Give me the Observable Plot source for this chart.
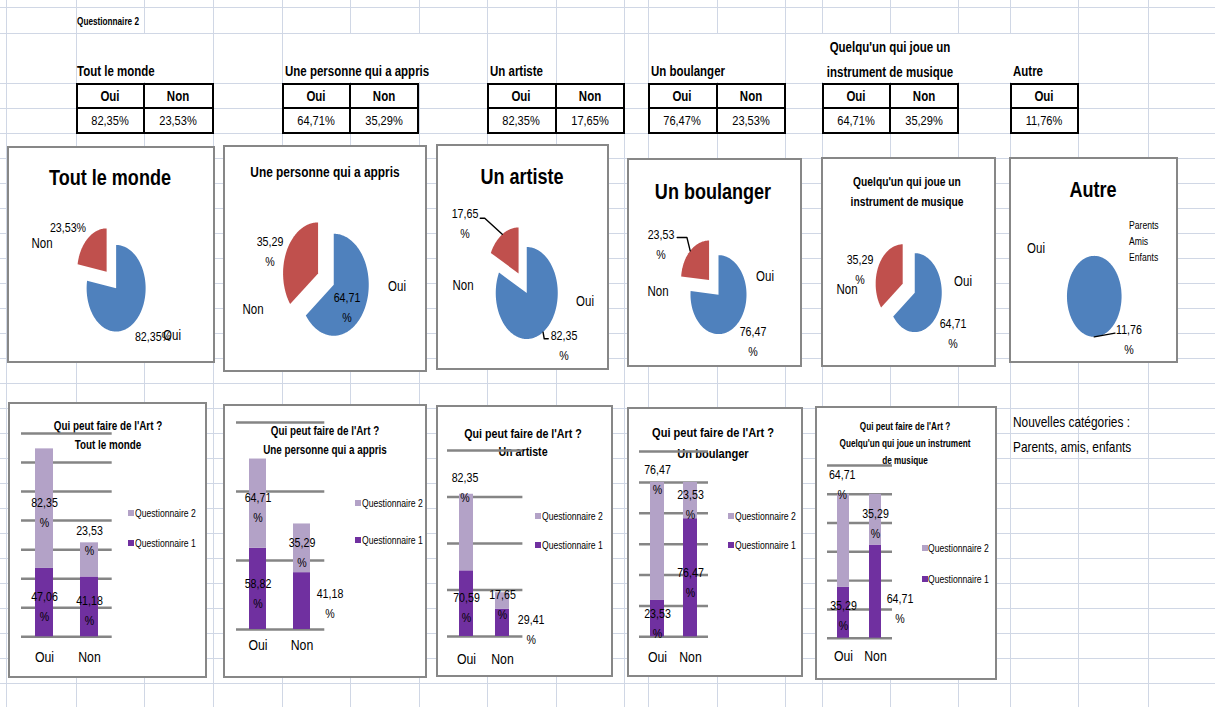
<!DOCTYPE html>
<html>
<head>
<meta charset="utf-8">
<script src="https://cdn.jsdelivr.net/npm/d3@7"></script>
<script src="https://cdn.jsdelivr.net/npm/@observablehq/plot@0.6"></script>
<style>
  body { margin: 0; background: #fff; }
  #page { position: relative; width: 1215px; height: 707px; overflow: hidden; background: #fff;
          font-family: "Liberation Sans Narrow", "Arial Narrow", "Liberation Sans", sans-serif; color: #000; }
  .gv { position: absolute; top: 0; width: 1px; height: 707px; background: #d0d7e5; }
  .gh { position: absolute; left: 0; height: 1px; width: 1215px; background: #d0d7e5; }
  .cover { position: absolute; background: #fff; }
  .box { position: absolute; background: #fff; border: 2px solid #878787; box-sizing: border-box; }
  .tbl { position: absolute; border: 2px solid #000; box-sizing: border-box; background: #fff; }
  .txt { position: absolute; white-space: pre; }
  .sw { position: absolute; width: 6px; height: 6px; }
</style>
</head>
<body>
<div id="page"></div>
<script>
// ---------------- DATA ----------------
const sheetTitle = "Questionnaire 2";
const chartQuestion = "Qui peut faire de l'Art ?";
const categories = ["Tout le monde", "Une personne qui a appris", "Un artiste", "Un boulanger",
                    "Quelqu'un qui joue un instrument de musique", "Autre"];
const answers = ["Oui", "Non"];
const seriesNames = ["Questionnaire 2", "Questionnaire 1"];
const q2Oui = [82.35, 64.71, 82.35, 76.47, 64.71, 11.76];
const q2Non = [23.53, 35.29, 17.65, 23.53, 35.29, null];
const q1Oui = [47.06, 58.82, 70.59, 23.53, 35.29];
const q1Non = [41.18, 41.18, 29.41, 76.47, 64.71];
const autreDetails = ["Parents", "Amis", "Enfants"];
const noteLines = ["Nouvelles catégories :", "Parents, amis, enfants"];
const barYMax = [140, 150, 200, 120, 120];
const barYStep = [20, 50, 50, 20, 20];

// ---------------- STYLE / LAYOUT ----------------
const FONT = '"Liberation Sans Narrow", "Arial Narrow", "Liberation Sans", sans-serif';
const SQUEEZE = 0.82; // horizontal condensing to mimic a narrow font
const BLUE = "#4f81bd", RED = "#c0504d", Q1C = "#7030a0", Q2C = "#b3a2c7", RULE = "#858585";
const gridCols = [6, 76, 144, 212.7, 281.7, 350, 418.5, 486.7, 555.5, 624, 647.7, 716.7, 785, 821.7, 890, 958.3, 1010, 1078.3, 1147.7];
const gridRows = [7, 32.5].concat(d3.range(82.7, 707, 25));
const row2Hidden = [144, 350, 418.5, 716.7, 821.7, 890, 958.3, 1010];

const tableLayout = [
  {title: {x: 77.3, y: 70.7}, cols: [76, 144, 212.7]},
  {title: {x: 284.7, y: 70.7}, cols: [281.7, 350, 418.5]},
  {title: {x: 489.7, y: 70.7}, cols: [486.7, 555.5, 624]},
  {title: {x: 650.7, y: 70.7}, cols: [647.7, 716.7, 785]},
  {title: {x: 890, y: [46.7, 71.7], center: true, split: 4}, cols: [821.7, 890, 958.3]},
  {title: {x: 1012.7, y: 70.7}, cols: [1010, 1078.3]}
];
const tableRows = [82.7, 108, 133];

const pieLayout = [
  {box: [7, 146, 215, 363], c: [115.5, 287.3], r: [29.5, 43.3], title: {x: 110, y: [178.3], size: 22},
   wrap: false, nonVal: [68.3, 228.3], nonCat: [41.7, 243.3], ouiVal: [153.3, 336.7], ouiCat: [171.7, 335], leaders: {}},
  {box: [223.3, 145, 427, 371.7], c: [333.3, 284], r: [35, 51], title: {x: 325, y: [171.7], size: 14.5},
   wrap: true, nonVal: [270.3, 251.7], nonCat: [253.3, 309.3], ouiVal: [346.7, 308.3], ouiCat: [396.7, 285.7], leaders: {}},
  {box: [436, 144, 609, 370], c: [526, 292.5], r: [31, 46], title: {x: 521.7, y: [177.3], size: 22},
   wrap: true, nonVal: [465, 224.2], nonCat: [463.3, 285], ouiVal: [564, 346], ouiCat: [585, 301],
   leaders: {Non: [[484, 217.7], [479.5, 217.7]], Oui: [[543.5, 338.3], [547.5, 338.3]]}},
  {box: [626.7, 158.3, 801.7, 366.7], c: [718.3, 294.5], r: [28, 39.5], title: {x: 713.3, y: [191.7], size: 22},
   wrap: true, nonVal: [661.2, 245.3], nonCat: [658.3, 290.7], ouiVal: [753.3, 341.7], ouiCat: [765, 276],
   leaders: {Non: [[686.7, 237.3], [677, 237.3]]}},
  {box: [820.7, 156.7, 996, 366.7], c: [914, 292], r: [27, 39.5], title: {x: 907.3, y: [181.7, 201.7], size: 12.5, split: 4},
   wrap: true, nonVal: [859.7, 270.3], nonCat: [847.3, 289.3], ouiVal: [953, 333.7], ouiCat: [962.7, 280.7], leaders: {}},
  {box: [1009, 156.7, 1177.7, 363], c: [1093.3, 295.5], r: [27.3, 40.5], title: {x: 1093.3, y: [190], size: 22},
   wrap: true, ouiVal: [1129.3, 340], ouiCat: [1035.7, 248.3], details: {x: 1129.3, y: [225, 240.7, 257.3]},
   leaders: {Oui: [[1114, 332.3]]}}
];

const barLayout = [
  {box: [8.3, 401.7, 207, 678], grid: [21, 111.7, 432.7, 636], centers: [43.8, 88.8], bw: 17.7,
   title: {x: 107.5, y: [426, 445], size: 12}, legend: {x: 128.3, y: [512.7, 542.7]}, axisDy: 25.5,
   shifts: [[0, 2], [0, -21], [0, 2], [0, 2]]},
  {box: [223, 404, 426.7, 678], grid: [235.7, 324, 422.3, 629.3], centers: [257.2, 302], bw: 17.5,
   title: {x: 325, y: [430.7, 450], size: 12}, legend: {x: 355, y: [503.3, 540]}, axisDy: 20.7,
   shifts: [[0, 1.5], [0, 2], [0, 3], [28, 1]]},
  {box: [436, 405, 612.7, 677], grid: [447.3, 522.7, 450, 636], centers: [466.7, 503.3], bw: 14.7,
   title: {x: 523.3, y: [432.7, 451], size: 13}, legend: {x: 535, y: [516, 545]}, axisDy: 27.8,
   shifts: [[-1.5, -47.4], [0, 1.4], [0, 1.5], [28.7, 5]]},
  {box: [627, 407, 802.7, 677], grid: [639.3, 708.3, 450.7, 636], centers: [657.5, 691.2], bw: 14.7,
   title: {x: 713.3, y: [433.3, 454.3], size: 13.5}, legend: {x: 728.3, y: [516, 545]}, axisDy: 25,
   shifts: [[0, -63.8], [0, 2.3], [0, 3], [0, 3]]},
  {box: [815, 406, 996.7, 680], grid: [826.7, 891.7, 465, 637.7], centers: [843, 875.5], bw: 12.5,
   title: {x: 905, y: [426.7, 444, 460.7], size: 10, split: 5}, legend: {x: 921.7, y: [548.3, 579.3]}, axisDy: 23,
   shifts: [[-1.3, -58.5], [0, 1.5], [0, 1], [24.5, 15]]}
];
const note = {x: 1012.7, y: [422.3, 447.3], size: 14.5};

// ---------------- HELPERS ----------------
const page = document.getElementById("page");
const fmt = v => v.toFixed(2).replace(".", ",");
function add(cls, css) {
  const d = document.createElement("div");
  d.className = cls;
  Object.assign(d.style, css);
  page.appendChild(d);
  return d;
}
function text(str, x, y, {size = 14, weight = "normal", anchor = "middle", lh = null} = {}) {
  const mid = anchor === "middle";
  const d = add("txt", {left: x + "px", top: y + "px", fontSize: size + "px", fontWeight: weight,
    lineHeight: lh ? lh + "px" : "1", textAlign: mid ? "center" : "left",
    transformOrigin: mid ? "50% 50%" : "0 50%",
    transform: (mid ? "translate(-50%,-50%)" : "translate(0,-50%)") + ` scaleX(${SQUEEZE})`});
  d.textContent = str;
  return d;
}
function splitWords(s, n) {
  const w = s.split(" ");
  return [w.slice(0, n).join(" "), w.slice(n).join(" ")];
}
function squeezeSvgText(svg) {
  svg.querySelectorAll("text").forEach(t => {
    const tr = t.getAttribute("transform");
    if (tr) t.setAttribute("transform", tr + ` scale(${SQUEEZE},1)`);
    else {
      const x = +t.getAttribute("x") || 0, y = +t.getAttribute("y") || 0;
      t.removeAttribute("x"); t.removeAttribute("y");
      t.setAttribute("transform", `translate(${x},${y}) scale(${SQUEEZE},1)`);
    }
  });
}
function place(svg, left, top) {
  Object.assign(svg.style, {position: "absolute", left: left + "px", top: top + "px",
    overflow: "visible", background: "transparent", fontFamily: FONT, maxWidth: "none"});
  squeezeSvgText(svg);
  page.appendChild(svg);
}

// ---------------- SHEET GRID ----------------
gridCols.forEach(x => add("gv", {left: Math.round(x) + "px"}));
gridRows.forEach(y => add("gh", {top: Math.round(y) + "px"}));
row2Hidden.forEach(x => add("cover", {left: (Math.round(x) - 1) + "px", top: "34px", width: "3px", height: "48px"}));

// ---------------- TOP TABLES ----------------
text(sheetTitle, 77.3, 21.5, {size: 10, weight: "bold", anchor: "start"});
tableLayout.forEach((T, i) => {
  const t = T.title;
  if (t.center) {
    splitWords(categories[i], t.split).forEach((ln, j) => text(ln, t.x, t.y[j], {size: 14, weight: "bold"}));
  } else {
    text(categories[i], t.x, t.y, {size: 14, weight: "bold", anchor: "start"});
  }
  const cols = T.cols;
  const [y0, ym, y1] = tableRows;
  add("tbl", {left: cols[0] + "px", top: y0 + "px", width: (cols[cols.length - 1] - cols[0] + 1) + "px", height: (y1 - y0 + 1) + "px"});
  add("cover", {left: cols[0] + "px", top: (ym - 1) + "px", width: (cols[cols.length - 1] - cols[0]) + "px", height: "2px", background: "#000"});
  if (cols.length === 3) add("cover", {left: (cols[1] - 1) + "px", top: y0 + "px", width: "2px", height: (y1 - y0) + "px", background: "#000"});
  const vals = [q2Oui[i], q2Non[i]];
  for (let c = 0; c < cols.length - 1; c++) {
    const cx = (cols[c] + cols[c + 1]) / 2;
    text(answers[c], cx, (y0 + ym) / 2 + 0.5, {size: 14, weight: "bold"});
    text(fmt(vals[c]) + "%", cx, (ym + y1) / 2 + 0.5, {size: 13.5});
  }
});

// ---------------- PIE CHARTS ----------------
pieLayout.forEach((P, i) => {
  const [bx0, by0, bx1, by1] = P.box;
  add("box", {left: bx0 + "px", top: by0 + "px", width: (bx1 - bx0) + "px", height: (by1 - by0) + "px"});
  const [cx, cy] = P.c, [rx, ry] = P.r;
  const vals = q2Non[i] == null ? [{answer: "Oui", value: q2Oui[i]}]
                                : [{answer: "Oui", value: q2Oui[i]}, {answer: "Non", value: q2Non[i]}];
  const arcs = d3.pie().sort(null).value(d => d.value)(vals);
  const toUnit = ([px, py]) => ({x: (px - cx) / rx, y: (cy - py) / ry});
  const marks = [];
  arcs.forEach(a => {
    const ex = a.data.answer === "Non" ? 0.5 : 0;
    const mid = (a.startAngle + a.endAngle) / 2;
    const ox = ex * Math.sin(mid), oy = ex * Math.cos(mid);
    const span = a.endAngle - a.startAngle;
    const full = span >= 2 * Math.PI - 1e-9;
    const n = Math.max(4, Math.ceil(span / (Math.PI / 120)));
    const pts = full ? [] : [{x: ox, y: oy}];
    for (let j = 0; j <= n; j++) {
      const t = a.startAngle + span * j / n;
      pts.push({x: ox + Math.sin(t), y: oy + Math.cos(t)});
    }
    marks.push(Plot.line(pts, {x: "x", y: "y", fill: a.data.answer === "Oui" ? BLUE : RED, stroke: "none", curve: "linear"}));
    const lead = P.leaders[a.data.answer];
    if (lead) {
      const lp = [{x: ox + Math.sin(mid), y: oy + Math.cos(mid)}].concat(lead.map(toUnit));
      marks.push(Plot.line(lp, {x: "x", y: "y", stroke: "#000", strokeWidth: 1.4, curve: "linear"}));
    }
  });
  const k = 1.75, W = 2 * k * rx, H = 2 * k * ry;
  const svg = Plot.plot({
    width: W, height: H, margin: 0,
    x: {domain: [-k, k], range: [0, W], axis: null},
    y: {domain: [-k, k], range: [H, 0], axis: null},
    marks
  });
  place(svg, cx - k * rx, cy - k * ry);

  // titles and labels
  const t = P.title;
  const tl = t.split ? splitWords(categories[i], t.split) : [categories[i]];
  tl.forEach((ln, j) => text(ln, t.x, t.y[j], {size: t.size, weight: "bold"}));
  const valStr = v => P.wrap ? fmt(v) + "\n%" : fmt(v) + "%";
  text(valStr(q2Oui[i]), P.ouiVal[0], P.ouiVal[1], {size: 13, lh: 20});
  text(answers[0], P.ouiCat[0], P.ouiCat[1], {size: 14});
  if (q2Non[i] != null) {
    text(valStr(q2Non[i]), P.nonVal[0], P.nonVal[1], {size: 13, lh: 20});
    text(answers[1], P.nonCat[0], P.nonCat[1], {size: 14});
  }
  if (P.details) autreDetails.forEach((s, j) => text(s, P.details.x, P.details.y[j], {size: 10.5, anchor: "start"}));
});

// ---------------- STACKED BAR CHARTS ----------------
barLayout.forEach((L, i) => {
  const [bx0, by0, bx1, by1] = L.box;
  add("box", {left: bx0 + "px", top: by0 + "px", width: (bx1 - bx0) + "px", height: (by1 - by0) + "px"});
  // title (drawn under the plot so grid rules cross it like in the sheet)
  const t = L.title;
  const lines = [chartQuestion].concat(t.split ? splitWords(categories[i], t.split) : [categories[i]]);
  lines.forEach((ln, j) => text(ln, t.x, t.y[j], {size: t.size, weight: "bold"}));

  const [gl, gr, gt, gb] = L.grid;
  const mT = 3, mB = 3, W = gr - gl, H = gb - gt;
  const step = L.centers[1] - L.centers[0];
  const pin = 1 - L.bw / step;
  const ppu = H / barYMax[i];
  const rows = [
    {answer: "Oui", series: seriesNames[1], value: q1Oui[i], base: 0},
    {answer: "Non", series: seriesNames[1], value: q1Non[i], base: 0},
    {answer: "Oui", series: seriesNames[0], value: q2Oui[i], base: q1Oui[i]},
    {answer: "Non", series: seriesNames[0], value: q2Non[i], base: q1Non[i]}
  ];
  const shiftOf = r => L.shifts[(r.series === seriesNames[0] ? 0 : 2) + (r.answer === "Oui" ? 0 : 1)];
  const labelMarks = rows.map(r => {
    const [dx, dy] = shiftOf(r);
    return Plot.text([r], {x: "answer", y: d => d.base + d.value / 2 - dy / ppu,
      text: d => fmt(d.value) + "\n%", dx, fontSize: 13, lineHeight: 20 / 13});
  });
  const svg = Plot.plot({
    width: W, height: H + mT + mB, marginTop: mT, marginBottom: mB, marginLeft: 0, marginRight: 0,
    x: {domain: answers, range: [L.centers[0] - step / 2 - gl, L.centers[1] + step / 2 - gl],
        paddingInner: pin, paddingOuter: pin / 2, align: 0.5, axis: null},
    y: {domain: [0, barYMax[i]], axis: null},
    color: {domain: seriesNames, range: [Q2C, Q1C]},
    marks: [
      Plot.ruleY(d3.range(0, barYMax[i] + 1e-9, barYStep[i]), {stroke: RULE, strokeWidth: 2.5}),
      Plot.barY(rows, {x: "answer", y: "value", fill: "series", order: [seriesNames[1], seriesNames[0]]}),
      ...labelMarks,
      Plot.text(answers, {x: d => d, frameAnchor: "bottom", dy: L.axisDy, fontSize: 15})
    ]
  });
  place(svg, gl, gt - mT);

  // legend
  seriesNames.forEach((s, j) => {
    add("sw", {left: L.legend.x + "px", top: (L.legend.y[j] - 3) + "px", background: j === 0 ? Q2C : Q1C});
    text(s, L.legend.x + 6.5, L.legend.y[j], {size: 10.5, anchor: "start"});
  });
});

// ---------------- NOTE ----------------
noteLines.forEach((s, j) => text(s, note.x, note.y[j], {size: note.size, anchor: "start"}));
</script>
</body>
</html>
